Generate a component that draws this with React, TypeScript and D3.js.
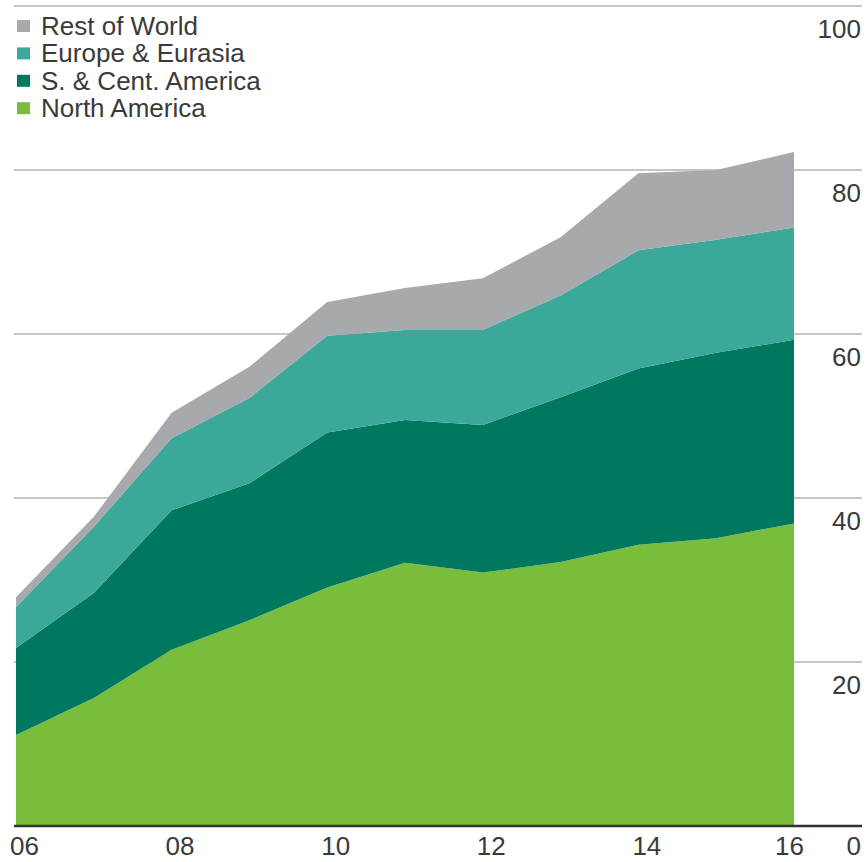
import React from "react";
import * as d3 from "d3";

const years = [2006, 2007, 2008, 2009, 2010, 2011, 2012, 2013, 2014, 2015, 2016];
const northAmerica = [11.1, 15.6, 21.5, 25.1, 29.1, 32.1, 30.9, 32.2, 34.3, 35.1, 36.9];
const southCentAmerica = [10.6, 12.8, 17.0, 16.7, 18.9, 17.4, 18.0, 20.1, 21.5, 22.6, 22.4];
const europeEurasia = [5.0, 8.1, 8.8, 10.4, 11.8, 11.0, 11.6, 12.4, 14.4, 13.8, 13.7];
const restOfWorld = [1.2, 1.2, 3.1, 3.8, 4.1, 5.1, 6.3, 7.1, 9.4, 8.5, 9.2];

const seriesKeys = ["North America", "S. & Cent. America", "Europe & Eurasia", "Rest of World"];
const seriesColors = ["#78be3c", "#00775f", "#3ca89a", "#a7a9ac"];
const legendOrder = ["Rest of World", "Europe & Eurasia", "S. & Cent. America", "North America"];
const yTicks = [0, 20, 40, 60, 80, 100];
const xTickYears = [2006, 2008, 2010, 2012, 2014, 2016];
const xTickLabels = ["06", "08", "10", "12", "14", "16"];

const W = 868;
const H = 862;
const FONT = "'Liberation Sans', Arial, sans-serif";

export default function App() {
  const x = d3.scaleLinear().domain([2006, 2016]).range([16, 794]);
  const y = d3.scaleLinear().domain([0, 100]).range([826, 6]);

  const table = years.map((yr, i) => ({
    year: yr,
    "North America": northAmerica[i],
    "S. & Cent. America": southCentAmerica[i],
    "Europe & Eurasia": europeEurasia[i],
    "Rest of World": restOfWorld[i],
  }));

  const stacked = d3.stack<any>().keys(seriesKeys)(table);
  const area = d3
    .area<any>()
    .x((d) => x(d.data.year))
    .y0((d) => y(d[0]))
    .y1((d) => y(d[1]));

  const colorOf = (k: string) => seriesColors[seriesKeys.indexOf(k)];

  return (
    <svg
      width={W}
      height={H}
      style={{ position: "absolute", left: 0, top: 0, display: "block", background: "#fff" }}
    >
      {/* gridlines */}
      {yTicks
        .filter((t) => t > 0)
        .map((t) => (
          <line
            key={"g" + t}
            x1={14}
            x2={862}
            y1={y(t)}
            y2={y(t)}
            stroke="#c6c6c6"
            strokeWidth={2}
          />
        ))}

      {/* areas */}
      {stacked.map((s) => (
        <path key={s.key} d={area(s) || ""} fill={colorOf(s.key)} />
      ))}

      {/* baseline */}
      <line x1={14} x2={862} y1={y(0)} y2={y(0)} stroke="#333" strokeWidth={2.5} />

      {/* y tick labels */}
      {yTicks.map((t) => (
        <text
          key={"yt" + t}
          x={861}
          y={t === 0 ? 855 : y(t) + 32}
          textAnchor="end"
          fontFamily={FONT}
          fontSize={26}
          fill="#3a3a3a"
        >
          {t}
        </text>
      ))}

      {/* x tick labels */}
      {xTickYears.map((yr, i) => {
        const last = i === xTickYears.length - 1;
        return (
          <text
            key={"xt" + yr}
            x={last ? x(yr) + 10 : x(yr) - 6}
            y={855}
            textAnchor={last ? "end" : "start"}
            fontFamily={FONT}
            fontSize={26}
            fill="#3a3a3a"
          >
            {xTickLabels[i]}
          </text>
        );
      })}

      {/* legend */}
      {legendOrder.map((k, i) => {
        const base = 35 + i * 27.4;
        return (
          <g key={"lg" + k}>
            <rect x={17} y={base - 15} width={13} height={12} fill={colorOf(k)} />
            <text x={41} y={base} fontFamily={FONT} fontSize={26} fill="#3a3a3a">
              {k}
            </text>
          </g>
        );
      })}
    </svg>
  );
}
